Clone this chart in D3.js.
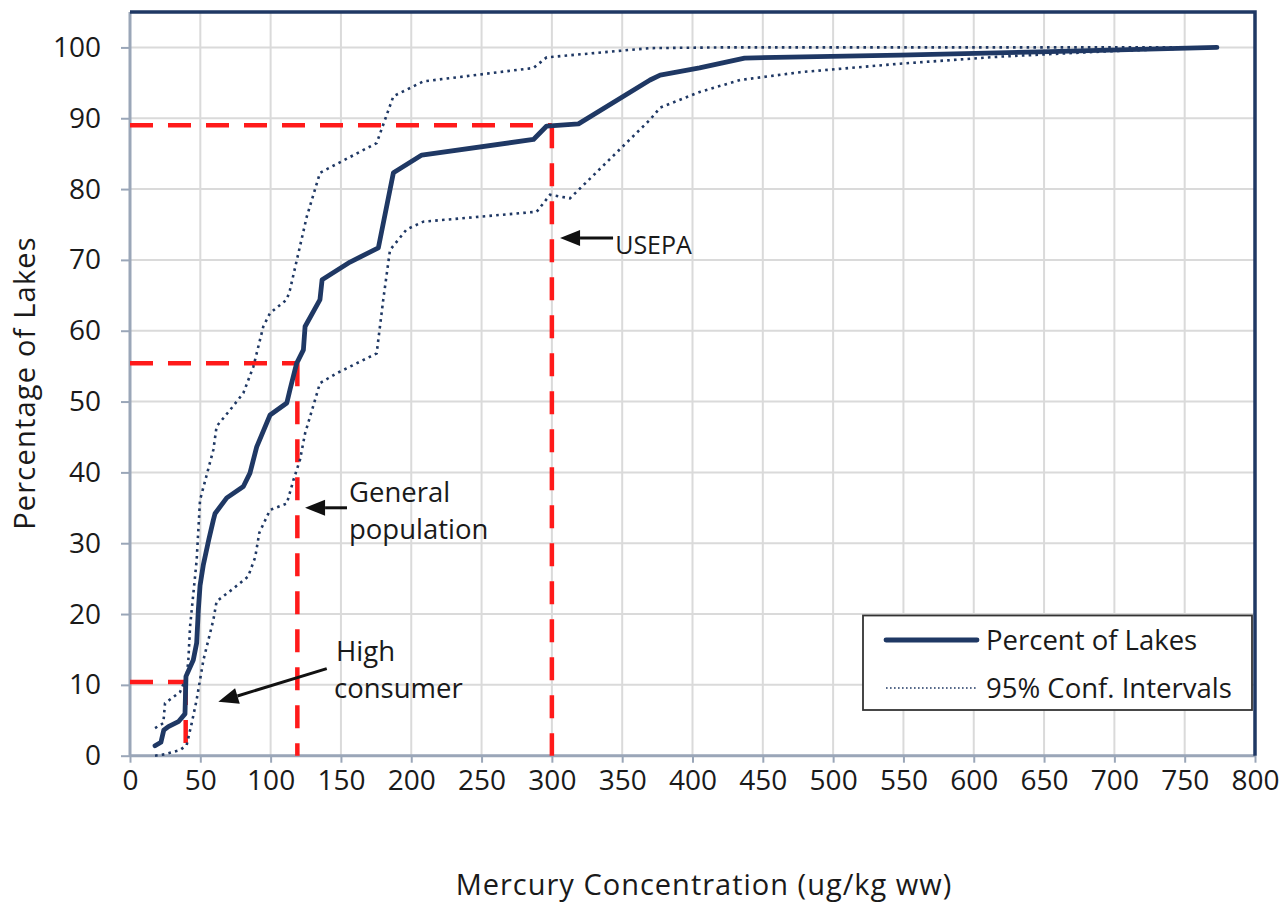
<!DOCTYPE html>
<html><head><meta charset="utf-8">
<script src="https://cdn.jsdelivr.net/npm/d3@7"></script>
<style>body{margin:0;background:#fff}svg{display:block}text{font-family:"Open Sans",sans-serif;fill:#1a1a1a}</style>
</head><body><svg id="c" width="1288" height="906"></svg>
<script>
// ---- data ----
const lakesX = [17.8, 22, 24, 27.3, 34.4, 39.1, 39.8, 45, 47.4, 48.6, 49.8, 52.2, 56, 59.3, 60.5, 68.8, 80.6, 85.3, 90.1, 99.6, 111.5, 113.8, 118.5, 123.3, 124.5, 135.1, 136.6, 142.2, 156.5, 176.6, 187.3, 207.5, 286.9, 296.3, 318.9, 369.8, 377, 405, 437, 547.6, 654, 772.9];
const lakesY = [1.4, 1.9, 3.6, 4.1, 4.8, 5.9, 11.2, 13.5, 15.9, 20.6, 24, 27, 30.5, 33.3, 34.2, 36.4, 38, 39.9, 43.6, 48.1, 49.8, 51.7, 55.4, 57.3, 60.6, 64.4, 67.2, 67.9, 69.7, 71.7, 82.3, 84.8, 87, 88.9, 89.2, 95.4, 96.1, 97.1, 98.5, 98.9, 99.4, 100];
const upperX = [17.8, 23.7, 24.9, 35.6, 40.3, 41.5, 42.7, 47.4, 49.8, 59.3, 61.6, 71.1, 80.6, 87.7, 94.8, 99.6, 111.5, 113.8, 125.7, 135.1, 175.4, 187.3, 208.6, 286.9, 296.3, 369.8, 420, 500, 600, 772];
const upperY = [3.9, 4.6, 7.4, 9.0, 11.2, 13.5, 18.2, 27.6, 36.1, 43.2, 46.5, 48.8, 51.2, 54.9, 60.6, 62.5, 64.4, 65.8, 76.1, 82.3, 86.5, 93.1, 95.2, 97.1, 98.6, 99.9, 100, 100, 100, 100];
const lowerX = [17.8, 24.9, 35.6, 40.3, 43.9, 47.4, 52.2, 59.3, 61.6, 73.5, 84, 89, 92, 99.6, 111.5, 116.2, 120.9, 124.5, 135.1, 147, 175.4, 180.1, 184.9, 196.7, 208.6, 289.2, 298.7, 312.9, 369.8, 377, 405, 434, 476.5, 547.6, 618.8, 690, 772];
const lowerY = [0, 0.2, 0.8, 1.5, 4.6, 7.9, 13.5, 19.2, 21.8, 23.6, 25.3, 28, 31.5, 34.7, 35.6, 38.9, 41.8, 45.5, 52.6, 54, 56.8, 64.4, 71.4, 74.3, 75.4, 76.8, 79.2, 78.7, 89.8, 91.5, 93.7, 95.4, 96.5, 97.7, 98.7, 99.4, 100];
const xTicks = [0,50,100,150,200,250,300,350,400,450,500,550,600,650,700,750,800];
const yTicks = [0,10,20,30,40,50,60,70,80,90,100];
// reference thresholds: [concentration, percent]
const thresholdX = [39.6, 119, 300];
const thresholdY = [10.4, 55.4, 89];
const legendLabels = ["Percent of Lakes", "95% Conf. Intervals"];
const xTitle = "Mercury Concentration (ug/kg ww)";
const yTitle = "Percentage of Lakes";

// ---- layout ----
const L = 130, R = 1255, T = 12, B = 755.7;
const x = d3.scaleLinear().domain([0, 800]).range([L, R]);
const y = d3.scaleLinear().domain([0, 105]).range([B, T]);
const svg = d3.select("#c");
const navy = "#1f3864";

// grid
svg.append("g").selectAll("line").data(xTicks).join("line")
  .attr("x1", d => x(d)).attr("x2", d => x(d)).attr("y1", T).attr("y2", B)
  .attr("stroke", "#dadada").attr("stroke-width", 2);
svg.append("g").selectAll("line").data(yTicks).join("line")
  .attr("x1", L).attr("x2", R).attr("y1", d => y(d)).attr("y2", d => y(d))
  .attr("stroke", "#dadada").attr("stroke-width", 2);

// axes
const xAxis = svg.append("g").attr("transform", `translate(0,${B})`)
  .call(d3.axisBottom(x).tickValues(xTicks).tickSize(7).tickPadding(7).tickFormat(d3.format("d")));
const yAxis = svg.append("g").attr("transform", `translate(${L},0)`)
  .call(d3.axisLeft(y).tickValues(yTicks).tickSize(9).tickPadding(20).tickFormat(d3.format("d")));
[xAxis, yAxis].forEach(a => {
  a.select(".domain").remove();
  a.selectAll(".tick line").attr("stroke", "#9aa6b8").attr("stroke-width", 2);
  a.selectAll("text").style("font-size", "28px").attr("fill", "#1a1a1a");
});
xAxis.selectAll("text").attr("dy", "0.71em");
// axis lines
svg.append("line").attr("x1", L).attr("x2", R).attr("y1", B).attr("y2", B).attr("stroke", "#9aa6b8").attr("stroke-width", 3);
svg.append("line").attr("x1", L).attr("x2", L).attr("y1", T).attr("y2", B).attr("stroke", "#9aa6b8").attr("stroke-width", 3);
// frame top/right
svg.append("path").attr("d", `M${L},${T}H${R}V${B}`).attr("fill", "none").attr("stroke", navy).attr("stroke-width", 3.5);

// red reference lines
const red = "#ff1a1a";
thresholdX.forEach((tx, i) => {
  const ty = thresholdY[i];
  svg.append("line").attr("x1", x(0)).attr("x2", x(tx)).attr("y1", y(ty)).attr("y2", y(ty))
    .attr("stroke", red).attr("stroke-width", 4.5).attr("stroke-dasharray", "23,15");
  svg.append("line").attr("x1", x(tx)).attr("x2", x(tx)).attr("y1", y(ty)).attr("y2", y(0))
    .attr("stroke", red).attr("stroke-width", 4.5).attr("stroke-dasharray", "23,15");
});

// curves
const line = d3.line().x(d => x(d[0])).y(d => y(d[1]));
const zip = (a, b) => a.map((v, i) => [v, b[i]]);
[[upperX, upperY], [lowerX, lowerY]].forEach(([a, b]) => {
  svg.append("path").attr("d", line(zip(a, b))).attr("fill", "none")
    .attr("stroke", navy).attr("stroke-width", 2.6).attr("stroke-dasharray", "2.6,4.2");
});
svg.append("path").attr("d", line(zip(lakesX, lakesY))).attr("fill", "none")
  .attr("stroke", navy).attr("stroke-width", 4.8).attr("stroke-linejoin", "round").attr("stroke-linecap", "round");

// annotations
function arrow(x1, y1, x2, y2) {
  const ang = Math.atan2(y2 - y1, x2 - x1), len = 20, w = 8;
  const bx = x2 - len * Math.cos(ang), by = y2 - len * Math.sin(ang);
  svg.append("line").attr("x1", x1).attr("y1", y1).attr("x2", bx).attr("y2", by)
    .attr("stroke", "#111").attr("stroke-width", 3);
  const px = -Math.sin(ang) * w, py = Math.cos(ang) * w;
  svg.append("polygon").attr("points", `${x2},${y2} ${bx + px},${by + py} ${bx - px},${by - py}`).attr("fill", "#111");
}
const annFont = "27.5px";
arrow(x(343.5), y(73.1), x(305.8), y(73.1));
svg.append("text").attr("x", x(345)).attr("y", 254).style("font-size", "25px").text("USEPA");
arrow(x(154.3), y(35), x(124.5), y(35));
svg.append("text").attr("x", 349).attr("y", 502).style("font-size", annFont).text("General");
svg.append("text").attr("x", 349).attr("y", 539).style("font-size", annFont).text("population");
arrow(x(139.9), y(12.3), x(62.8), y(7.6));
svg.append("text").attr("x", 336).attr("y", 661).style("font-size", annFont).text("High");
svg.append("text").attr("x", 334).attr("y", 698).style("font-size", annFont).text("consumer");

// axis titles
svg.append("text").attr("x", 704).attr("y", 895).attr("text-anchor", "middle")
  .style("font-size", "29px").style("letter-spacing", "1px").text(xTitle);
svg.append("text").attr("transform", "translate(35,383) rotate(-90)").attr("text-anchor", "middle")
  .style("font-size", "29px").style("letter-spacing", "1.2px").text(yTitle);

// legend
const lg = svg.append("g");
lg.append("rect").attr("x", 863).attr("y", 615.5).attr("width", 389).attr("height", 94.5)
  .attr("fill", "#fff").attr("stroke", "#333").attr("stroke-width", 1.8);
lg.append("line").attr("x1", 886).attr("x2", 977).attr("y1", 640).attr("y2", 640)
  .attr("stroke", navy).attr("stroke-width", 4.8).attr("stroke-linecap", "round");
lg.append("line").attr("x1", 886).attr("x2", 977).attr("y1", 688).attr("y2", 688)
  .attr("stroke", navy).attr("stroke-width", 1.6).attr("stroke-dasharray", "1.6,2.4");
legendLabels.forEach((t, i) => {
  lg.append("text").attr("x", 986).attr("y", 640 + 48 * i).attr("dy", "0.35em").style("font-size", "27.5px").text(t);
});
</script></body></html>
